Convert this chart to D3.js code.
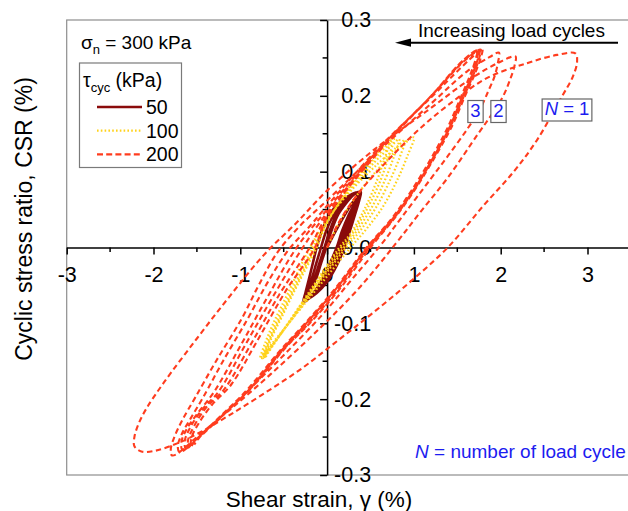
<!DOCTYPE html>
<html>
<head>
<meta charset="utf-8">
<script src="https://cdn.jsdelivr.net/npm/d3@7"></script>
<style>
  body { margin: 0; background: #fff; }
  svg { display: block; font-family: "Liberation Sans", Arial, sans-serif; }
</style>
</head>
<body>
<svg id="chart" width="628" height="511"></svg>
<script>
// ---- axis ticks ----
const xTicks = [-3, -2, -1, 0, 1, 2, 3];
const xMinorTicks = [-2.5, -1.5, -0.5, 0.5, 1.5, 2.5];
const yTicks = [-0.3, -0.2, -0.1, 0, 0.1, 0.2, 0.3];
const yMinorTicks = [-0.25, -0.15, -0.05, 0.05, 0.15, 0.25];

// ---- legend ----
const tauLevels = ["50", "100", "200"];
const cycleLabels = ["3", "2", "1"];

// ---- hysteresis loops: [shear strain (%), CSR] in loading order, one array per branch ----
// τcyc = 200 kPa
const tau200 = [
  [[0,0],[0.12,0.03],[0.35,0.07],[0.7,0.115],[1.1,0.16],[1.5,0.197],[1.85,0.224],[2.3,0.243],[2.65,0.254],[2.86,0.256]],
  [[2.86,0.256],[2.88,0.245],[2.83,0.225],[2.7,0.198],[2.42,0.142],[2.15,0.1],[1.8,0.055],[1.39,0],[0.95,-0.046],[0.53,-0.086],[0.12,-0.123],[-0.31,-0.161],[-0.72,-0.192],[-1.11,-0.22],[-1.45,-0.243],[-1.72,-0.258],[-1.98,-0.268],[-2.14,-0.269],[-2.22,-0.262]],
  [[-2.22,-0.262],[-2.22,-0.25],[-2.17,-0.232],[-2.08,-0.212],[-1.88,-0.178],[-1.5,-0.12],[-1.12,-0.064],[-0.73,-0.01],[-0.35,0.033],[0,0.075],[0.53,0.128],[1.15,0.18],[1.65,0.222],[1.98,0.244],[2.17,0.252]],
  [[2.17,0.252],[2.16,0.24],[2.11,0.222],[2.03,0.2],[1.9,0.176],[1.74,0.15],[1.39,0.092],[1.07,0.046],[0.79,0.005],[0.38,-0.052],[-0.08,-0.106],[-0.65,-0.167],[-1.11,-0.213],[-1.46,-0.246],[-1.64,-0.264],[-1.74,-0.273],[-1.79,-0.274]],
  [[-1.79,-0.274],[-1.8,-0.265],[-1.76,-0.25],[-1.67,-0.228],[-1.52,-0.198],[-1.28,-0.15],[-0.98,-0.093],[-0.78,-0.048],[-0.57,-0.006],[-0.3,0.03],[0,0.062],[0.6,0.128],[1.2,0.19],[1.62,0.233],[1.87,0.251],[1.98,0.257]],
  [[1.98,0.257],[1.97,0.245],[1.93,0.226],[1.86,0.207],[1.76,0.182],[1.62,0.157],[1.4,0.122],[1.19,0.09],[0.86,0.04],[0.61,0.002],[0.3,-0.04],[-0.05,-0.088],[-0.5,-0.142],[-0.92,-0.19],[-1.26,-0.228],[-1.48,-0.251],[-1.62,-0.265],[-1.7,-0.27]],
  [[-1.7,-0.27],[-1.72,-0.262],[-1.67,-0.245],[-1.57,-0.225],[-1.43,-0.198],[-1.2,-0.15],[-0.92,-0.095],[-0.68,-0.045],[-0.45,-0.004],[-0.2,0.028],[0,0.055],[0.6,0.132],[1.2,0.198],[1.55,0.238],[1.72,0.256],[1.79,0.262]],
  [[1.79,0.262],[1.77,0.25],[1.71,0.231],[1.59,0.2],[1.43,0.158],[1.25,0.121],[1.05,0.083],[0.8,0.042],[0.5,0],[0.15,-0.054],[-0.2,-0.1],[-0.47,-0.131],[-0.88,-0.186],[-1.25,-0.226],[-1.47,-0.249],[-1.6,-0.262],[-1.67,-0.266]],
  [[-1.67,-0.266],[-1.68,-0.257],[-1.62,-0.24],[-1.5,-0.22],[-1.3,-0.19],[-1.0,-0.13],[-0.68,-0.064],[-0.35,0],[0,0.05],[0.6,0.13],[1.2,0.2],[1.58,0.246],[1.77,0.261]],
  [[1.77,0.261],[1.75,0.249],[1.69,0.229],[1.57,0.198],[1.41,0.157],[1.23,0.119],[1.03,0.081],[0.78,0.04],[0.47,-0.002],[0.12,-0.056],[-0.22,-0.101],[-0.5,-0.134],[-0.9,-0.188],[-1.27,-0.228],[-1.48,-0.251],[-1.58,-0.261],[-1.63,-0.265]],
  [[-1.63,-0.265],[-1.64,-0.255],[-1.58,-0.238],[-1.45,-0.215],[-1.25,-0.19],[-0.95,-0.13],[-0.62,-0.064],[-0.28,0],[0,0.046],[0.6,0.129],[1.2,0.2],[1.58,0.247],[1.76,0.261]],
  [[1.76,0.261],[1.74,0.25],[1.68,0.23],[1.56,0.199],[1.4,0.156],[1.22,0.118],[1.02,0.08],[0.77,0.04],[0.46,-0.001],[0.1,-0.055],[-0.24,-0.1],[-0.52,-0.135],[-0.92,-0.19],[-1.28,-0.229],[-1.48,-0.25],[-1.56,-0.259],[-1.6,-0.264]],
  [[-1.6,-0.264],[-1.6,-0.253],[-1.53,-0.235],[-1.4,-0.212],[-1.18,-0.186],[-0.88,-0.128],[-0.55,-0.062],[-0.2,0],[0,0.042],[0.6,0.128],[1.2,0.2],[1.57,0.247],[1.74,0.26]],
  [[1.74,0.26],[1.72,0.248],[1.66,0.228],[1.55,0.198],[1.39,0.156],[1.21,0.118],[1.01,0.08],[0.76,0.039],[0.45,-0.002],[0.09,-0.056],[-0.26,-0.102],[-0.54,-0.137],[-0.93,-0.19],[-1.28,-0.228],[-1.47,-0.249],[-1.54,-0.258],[-1.57,-0.263]],
  [[-1.57,-0.263],[-1.56,-0.25],[-1.48,-0.232],[-1.33,-0.208],[-1.1,-0.18],[-0.8,-0.122],[-0.48,-0.058],[-0.14,0],[0,0.04],[0.6,0.127],[1.2,0.2],[1.56,0.246],[1.73,0.26]],
  [[1.73,0.26],[1.71,0.248],[1.65,0.228],[1.54,0.198],[1.38,0.156],[1.2,0.118],[1.0,0.08],[0.75,0.039],[0.44,-0.002],[0.08,-0.056],[-0.27,-0.102],[-0.55,-0.137],[-0.94,-0.19],[-1.28,-0.228],[-1.46,-0.249],[-1.53,-0.26]]
];

// τcyc = 100 kPa
const tau100 = [
  [[0,0],[0.15,0.035],[0.35,0.07],[0.6,0.105],[0.82,0.13],[1.0,0.145]],
  [[1.0,0.145],[0.93,0.122],[0.82,0.092],[0.65,0.055],[0.45,0.024],[0.27,0],[0,-0.038],[-0.3,-0.08],[-0.55,-0.115],[-0.7,-0.136],[-0.77,-0.146]],
  [[-0.77,-0.146],[-0.72,-0.128],[-0.62,-0.1],[-0.45,-0.06],[-0.22,-0.005],[0,0.037],[0.3,0.078],[0.6,0.112],[0.8,0.132],[0.9,0.142]],
  [[0.9,0.142],[0.84,0.12],[0.73,0.09],[0.57,0.054],[0.38,0.022],[0.22,0],[-0.05,-0.04],[-0.33,-0.083],[-0.56,-0.118],[-0.69,-0.137],[-0.75,-0.146]],
  [[-0.75,-0.146],[-0.69,-0.126],[-0.58,-0.097],[-0.4,-0.055],[-0.18,-0.004],[0,0.036],[0.3,0.08],[0.55,0.113],[0.74,0.134],[0.83,0.143]],
  [[0.83,0.143],[0.77,0.12],[0.67,0.09],[0.52,0.054],[0.33,0.02],[0.18,-0.002],[-0.08,-0.042],[-0.35,-0.085],[-0.57,-0.12],[-0.69,-0.138],[-0.74,-0.146]],
  [[-0.74,-0.146],[-0.67,-0.124],[-0.55,-0.094],[-0.37,-0.052],[-0.15,-0.002],[0,0.034],[0.28,0.08],[0.52,0.114],[0.7,0.135],[0.77,0.143]],
  [[0.77,0.143],[0.71,0.12],[0.62,0.09],[0.48,0.055],[0.3,0.02],[0.15,-0.002],[-0.1,-0.043],[-0.37,-0.087],[-0.58,-0.121],[-0.69,-0.139],[-0.73,-0.146]],
  [[-0.73,-0.146],[-0.66,-0.123],[-0.53,-0.092],[-0.35,-0.05],[-0.13,0],[0,0.033],[0.26,0.08],[0.5,0.115],[0.66,0.135],[0.73,0.143]],
  [[0.73,0.143],[0.67,0.12],[0.58,0.09],[0.45,0.055],[0.28,0.02],[0.13,-0.002],[-0.12,-0.044],[-0.38,-0.088],[-0.58,-0.122],[-0.68,-0.139],[-0.72,-0.146]],
  [[-0.72,-0.146],[-0.65,-0.122],[-0.52,-0.091],[-0.34,-0.049],[-0.12,0],[0,0.032],[0.25,0.08],[0.48,0.115],[0.63,0.134],[0.7,0.142]]
];

// τcyc = 50 kPa
const tau50 = [
  [[0,0],[0.1,0.022],[0.22,0.046],[0.32,0.064],[0.39,0.073]],
  [[0.39,0.073],[0.37,0.062],[0.32,0.043],[0.26,0.021],[0.2,0],[0.11,-0.024],[0.0,-0.045],[-0.12,-0.06],[-0.22,-0.068],[-0.27,-0.071]],
  [[-0.27,-0.071],[-0.25,-0.06],[-0.21,-0.042],[-0.165,-0.021],[-0.12,0],[-0.06,0.022],[0.03,0.044],[0.15,0.06],[0.28,0.07],[0.37,0.073]],
  [[0.37,0.073],[0.35,0.062],[0.29,0.043],[0.23,0.021],[0.17,0],[0.08,-0.024],[-0.03,-0.045],[-0.14,-0.06],[-0.22,-0.068],[-0.26,-0.071]],
  [[-0.26,-0.071],[-0.24,-0.06],[-0.18,-0.042],[-0.125,-0.021],[-0.07,0],[-0.01,0.022],[0.08,0.044],[0.19,0.06],[0.3,0.07],[0.36,0.073]],
  [[0.36,0.073],[0.34,0.062],[0.27,0.043],[0.2,0.021],[0.14,0],[0.05,-0.024],[-0.05,-0.045],[-0.15,-0.06],[-0.22,-0.068],[-0.25,-0.071]],
  [[-0.25,-0.071],[-0.22,-0.06],[-0.15,-0.042],[-0.09,-0.021],[-0.03,0],[0.03,0.022],[0.11,0.044],[0.21,0.06],[0.3,0.069],[0.35,0.072]],
  [[0.35,0.072],[0.33,0.062],[0.25,0.043],[0.17,0.021],[0.11,0],[0.02,-0.024],[-0.07,-0.045],[-0.16,-0.06],[-0.21,-0.067],[-0.24,-0.07]],
  [[-0.24,-0.07],[-0.2,-0.059],[-0.13,-0.042],[-0.07,-0.021],[-0.01,0],[0.05,0.022],[0.13,0.044],[0.23,0.06],[0.3,0.069],[0.34,0.072]]
];

const svg = d3.select("#chart");

const x = d3.scaleLinear().domain([-3, 3.5]).range([66.7, 630.9]);
const y = d3.scaleLinear().domain([-0.3, 0.3]).range([475, 20]);

// plot frame
svg.append("rect")
  .attr("x", x(-3)).attr("y", y(0.3))
  .attr("width", 640 - x(-3)).attr("height", y(-0.3) - y(0.3))
  .attr("fill", "none").attr("stroke", "#8e8e8e").attr("stroke-width", 1.2);

// axes crossing at the origin
const tickFont = "21.5px";
const gx = svg.append("g").attr("transform", `translate(0,${y(0)})`)
  .call(d3.axisBottom(x).tickValues(xTicks).tickSize(7).tickSizeOuter(0).tickFormat(d => String(d)));
gx.selectAll("text").attr("y", 19).attr("font-size", tickFont).attr("font-family", "Liberation Sans, Arial, sans-serif");
gx.selectAll("line").attr("stroke-width", 1.5);
gx.select(".domain").attr("stroke-width", 1.5);
gx.selectAll(".minor").data(xMinorTicks).enter().append("line")
  .attr("x1", d => x(d)).attr("x2", d => x(d)).attr("y1", 0).attr("y2", 4.5)
  .attr("stroke", "#000").attr("stroke-width", 1.5);

const gy = svg.append("g").attr("transform", `translate(${x(0)},0)`)
  .call(d3.axisLeft(y).tickValues(yTicks).tickSize(7).tickSizeOuter(0).tickFormat(d => d.toFixed(1)));
gy.selectAll("text").attr("x", 44).attr("text-anchor", "end").attr("font-size", tickFont)
  .attr("font-family", "Liberation Sans, Arial, sans-serif");
gy.selectAll("line").attr("stroke-width", 1.5);
gy.select(".domain").attr("stroke-width", 1.5);
gy.selectAll(".minor").data(yMinorTicks).enter().append("line")
  .attr("x1", 0).attr("x2", -4.5).attr("y1", d => y(d)).attr("y2", d => y(d))
  .attr("stroke", "#000").attr("stroke-width", 1.5);

// axis titles
svg.append("text").attr("x", 319).attr("y", 507).attr("text-anchor", "middle")
  .attr("font-size", "22.5px").text("Shear strain, γ (%)");
svg.append("text").attr("transform", "translate(32,219) rotate(-90)").attr("text-anchor", "middle")
  .attr("font-size", "23px").text("Cyclic stress ratio, CSR (%)");

// loops
const line = d3.line().x(d => x(d[0])).y(d => y(d[1])).curve(d3.curveCatmullRom.alpha(0.5));
const joinBranches = branches => branches.reduce((acc, b, i) => acc.concat(i === 0 ? b : b.slice(1)), []);

const styles = {
  "50":  { stroke: "#8a0b0b", width: 2.6, dash: null },
  "100": { stroke: "#ffd21a", width: 2.2, dash: "1.6,2.2" },
  "200": { stroke: "#ff3c1e", width: 2.1, dash: "5.5,3.5" }
};

function drawSeries(branches, key) {
  const s = styles[key];
  svg.append("path").datum(joinBranches(branches))
    .attr("d", line).attr("fill", "none")
    .attr("stroke", s.stroke).attr("stroke-width", s.width)
    .attr("stroke-dasharray", s.dash).attr("stroke-linejoin", "round");
}
drawSeries(tau50, "50");
drawSeries(tau100, "100");
drawSeries(tau200, "200");

// normal stress note
const sig = svg.append("text").attr("x", 81).attr("y", 49).attr("font-size", "19px");
sig.append("tspan").text("σ");
sig.append("tspan").attr("font-size", "13px").attr("dy", 5).text("n");
sig.append("tspan").attr("dy", -5).text(" = 300 kPa");

// legend
svg.append("rect").attr("x", 79.5).attr("y", 63).attr("width", 102).attr("height", 104.5)
  .attr("fill", "#fff").attr("stroke", "#7a7a7a").attr("stroke-width", 1.2);
const lt = svg.append("text").attr("x", 83).attr("y", 87).attr("font-size", "19.5px");
lt.append("tspan").text("τ");
lt.append("tspan").attr("font-size", "13px").attr("dy", 5).text("cyc");
lt.append("tspan").attr("dy", -5).text(" (kPa)");
tauLevels.forEach((k, i) => {
  const yy = 107 + i * 23.7;
  const s = styles[k];
  svg.append("line").attr("x1", 97).attr("x2", 142).attr("y1", yy).attr("y2", yy)
    .attr("stroke", s.stroke).attr("stroke-width", s.width)
    .attr("stroke-dasharray", k === "200" ? "6,3.2" : s.dash);
  svg.append("text").attr("x", 146).attr("y", yy + 7).attr("font-size", "19.5px").text(k);
});

// arrow annotation
svg.append("text").attr("x", 418).attr("y", 37).attr("font-size", "19px").text("Increasing load cycles");
svg.append("line").attr("x1", 618).attr("x2", 408).attr("y1", 42.7).attr("y2", 42.7)
  .attr("stroke", "#000").attr("stroke-width", 2);
svg.append("path").attr("d", "M395,42.7 L411,38.6 L411,46.8 Z").attr("fill", "#000");

// cycle number tags
const tagBlue = "#1c1cf0";
const tagPos = { "3": [475.5, 116.5], "2": [498.5, 116.5], "1": [567, 115] };
cycleLabels.forEach(k => {
  const g = svg.append("g");
  const t = g.append("text").attr("x", tagPos[k][0]).attr("y", tagPos[k][1])
    .attr("text-anchor", "middle").attr("font-size", "18.5px").attr("fill", tagBlue);
  if (k === "1") {
    t.append("tspan").attr("font-style", "italic").text("N");
    t.append("tspan").text(" = 1");
  } else {
    t.text(k);
  }
  const bb = t.node().getBBox();
  g.insert("rect", "text")
    .attr("x", bb.x - 2.5).attr("y", bb.y + 1).attr("width", bb.width + 5).attr("height", bb.height + 1)
    .attr("fill", "#fff").attr("stroke", "#666").attr("stroke-width", 1.2);
});

// note on N
const nt = svg.append("text").attr("x", 415).attr("y", 458).attr("font-size", "19px").attr("fill", tagBlue);
nt.append("tspan").attr("font-style", "italic").text("N");
nt.append("tspan").text(" = number of load cycle");
</script>
</body>
</html>
